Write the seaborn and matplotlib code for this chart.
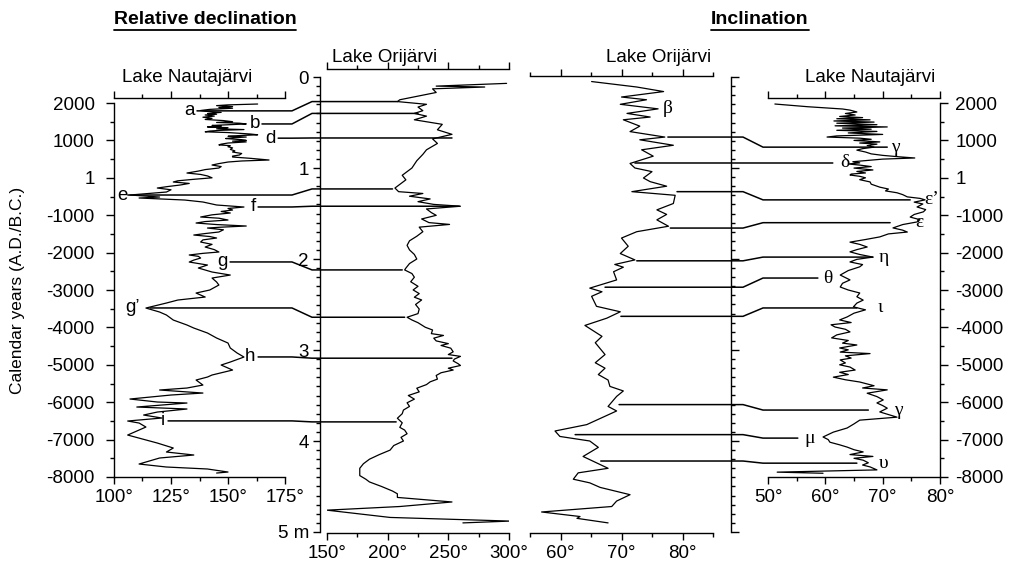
import numpy as np
import pandas as pd
import matplotlib
matplotlib.use("Agg")
import matplotlib.pyplot as plt
import seaborn as sns
from matplotlib.lines import Line2D
from matplotlib.ticker import FixedLocator

# ---------------- data ----------------
# Lake Nautajärvi relative declination (calendar year, degrees)
naut_dec_year = [1973, 1950, 1930, 1905, 1880, 1860, 1830, 1800, 1780, 1750, 1720, 1700, 1680, 1650, 1620,
                 1590, 1560, 1530, 1500, 1480, 1460, 1440, 1420, 1400, 1380, 1360, 1340, 1310, 1290, 1270,
                 1250, 1230, 1210, 1190, 1170, 1150, 1130, 1110, 1090, 1070, 1050, 1020, 1000, 980, 960,
                 930, 900, 880, 860, 830, 800, 760, 720, 690, 650, 610, 580, 556, 520, 476,
                 450, 422, 380, 342, 300, 262, 220, 180, 128, 90, 50, 0, -40, -80, -112,
                 -150, -193, -230, -273, -320, -380, -420, -460, -514, -540, -594, -647, -727, -781, -820,
                 -861, -900, -941, -990, -1048, -1080, -1129, -1170, -1209, -1250, -1289, -1320, -1343, -1390, -1449,
                 -1490, -1530, -1570, -1610, -1660, -1717, -1780, -1851, -1920, -1984, -2020, -2064, -2100, -2145, -2200,
                 -2252, -2332, -2412, -2519, -2600, -2680, -2786, -2867, -3000, -3081, -3188, -3268, -3348, -3482, -3589,
                 -3669, -3803, -3936, -4017, -4150, -4284, -4418, -4551, -4685, -4792, -4926, -5006, -5140, -5273, -5327,
                 -5407, -5541, -5621, -5674, -5755, -5808, -5915, -5995, -6022, -6129, -6182, -6263, -6343, -6423, -6503,
                 -6557, -6664, -6744, -6878, -7011, -7092, -7225, -7332, -7412, -7492, -7599, -7653, -7733, -7786, -7867,
                 -7894]
naut_dec_deg = [163, 150, 145, 152, 146, 152, 142, 138, 140, 147, 141, 145, 140, 144, 139,
                143, 140, 148, 152, 145, 155, 158, 150, 143, 147, 141, 150, 145, 157, 147,
                142, 140, 150, 155, 160, 163, 155, 150, 158, 152, 149, 156, 158, 152, 158,
                150, 147, 146, 151, 150, 152, 151, 153, 152, 156, 155, 152, 152, 160, 168,
                156, 150, 146, 143, 147, 146, 140, 137, 132, 138, 141, 143, 135, 128, 126,
                133, 129, 124, 119, 125, 123, 115, 107, 120, 111, 131, 139, 145, 157, 150,
                152, 147, 151, 143, 138, 146, 150, 140, 136, 145, 158, 147, 141, 148, 146,
                140, 135, 142, 145, 139, 138, 143, 140, 144, 146, 139, 133, 137, 138, 135,
                133, 141, 137, 143, 151, 143, 145, 146, 142, 136, 140, 128, 123, 114, 120,
                123, 126, 132, 135, 141, 145, 150, 151, 154, 157, 151, 147, 152, 143, 141,
                136, 139, 132, 120, 139, 125, 107, 119, 132, 110, 132, 119, 113, 121, 106,
                111, 114, 111, 106, 114, 119, 126, 123, 135, 120, 114, 111, 123, 141, 150,
                145]

# Lake Orijärvi relative declination (depth m, degrees)
ori_dec_depth = [0.07, 0.10, 0.11, 0.13, 0.17, 0.25, 0.27, 0.30, 0.33, 0.37, 0.40, 0.43, 0.47, 0.52, 0.58,
                 0.63, 0.68, 0.73, 0.80, 0.85, 0.92, 1.00, 1.08, 1.13, 1.18, 1.22, 1.26, 1.28, 1.31, 1.34,
                 1.37, 1.40, 1.42, 1.45, 1.49, 1.52, 1.56, 1.60, 1.62, 1.65, 1.70, 1.75, 1.80, 1.85, 1.90,
                 1.95, 2.00, 2.05, 2.10, 2.12, 2.16, 2.20, 2.25, 2.30, 2.34, 2.38, 2.42, 2.45, 2.50, 2.55,
                 2.60, 2.64, 2.67, 2.70, 2.75, 2.78, 2.82, 2.84, 2.87, 2.90, 2.93, 2.95, 2.98, 3.02, 3.05,
                 3.07, 3.10, 3.12, 3.15, 3.17, 3.20, 3.22, 3.25, 3.28, 3.32, 3.35, 3.38, 3.42, 3.46, 3.50,
                 3.54, 3.58, 3.62, 3.66, 3.70, 3.75, 3.80, 3.85, 3.88, 3.92, 3.96, 4.00, 4.05, 4.10, 4.15,
                 4.20, 4.25, 4.30, 4.38, 4.42, 4.45, 4.50, 4.55, 4.58, 4.62, 4.67, 4.72, 4.76, 4.84, 4.88,
                 4.90]
ori_dec_deg = [298, 240, 280, 237, 240, 210, 208, 232, 225, 229, 222, 232, 222, 245, 241,
               253, 237, 241, 232, 229, 224, 220, 212, 215, 210, 206, 209, 229, 218, 235,
               225, 238, 260, 232, 236, 240, 228, 234, 251, 226, 229, 224, 218, 216, 218,
               222, 224, 218, 215, 214, 220, 222, 219, 225, 221, 226, 222, 228, 223, 226,
               225, 216, 220, 225, 231, 237, 236, 246, 238, 240, 250, 244, 252, 254, 250,
               260, 255, 254, 258, 260, 250, 254, 244, 240, 241, 235, 232, 224, 226, 217,
               222, 216, 218, 213, 212, 208, 212, 210, 214, 216, 211, 213, 205, 202, 193,
               185, 180, 177, 177, 182, 185, 195, 204, 208, 208, 253, 210, 150, 202, 301,
               262]

# Lake Orijärvi inclination (depth m, degrees)
ori_inc_depth = [0.05, 0.11, 0.16, 0.22, 0.25, 0.30, 0.35, 0.40, 0.44, 0.47, 0.54, 0.60, 0.66, 0.69, 0.75,
                 0.80, 0.87, 0.95, 1.00, 1.04, 1.11, 1.15, 1.20, 1.26, 1.30, 1.39, 1.46, 1.51, 1.57, 1.64,
                 1.70, 1.77, 1.86, 1.94, 2.01, 2.06, 2.09, 2.14, 2.23, 2.32, 2.36, 2.41, 2.52, 2.58, 2.65,
                 2.73, 2.85, 2.92, 3.05, 3.14, 3.20, 3.27, 3.33, 3.40, 3.45, 3.51, 3.62, 3.67, 3.82, 3.89,
                 3.95, 4.00, 4.07, 4.17, 4.30, 4.35, 4.42, 4.46, 4.51, 4.59, 4.66, 4.72, 4.78, 4.83, 4.85,
                 4.90]
ori_inc_deg = [65.1, 72.5, 76.9, 70.0, 74.1, 69.8, 76.0, 70.9, 74.7, 70.3, 73.0, 71.4, 77.1, 73.0, 78.5,
               73.3, 75.2, 71.4, 72.2, 75.0, 73.6, 74.7, 77.4, 71.7, 78.8, 78.5, 75.8, 77.4, 75.8, 77.7,
               72.5, 70.0, 71.1, 69.8, 72.2, 68.9, 70.3, 68.7, 69.2, 64.8, 66.8, 65.1, 65.9, 69.8, 67.6,
               64.0, 66.8, 65.7, 67.3, 65.7, 67.3, 66.2, 67.8, 68.1, 70.3, 69.2, 67.8, 69.2, 64.3, 59.1,
               59.9, 64.8, 66.2, 63.7, 67.8, 62.9, 62.1, 64.8, 66.5, 71.4, 69.2, 68.4, 56.9, 63.2, 62.7,
               67.8]

# Lake Nautajärvi inclination (calendar year, degrees)
naut_inc_year = [1973, 1900, 1840, 1810, 1760, 1720, 1680, 1640, 1610, 1580, 1550, 1520, 1490, 1460, 1420,
                 1390, 1360, 1330, 1300, 1270, 1240, 1200, 1160, 1120, 1090, 1060, 1030, 1000, 960, 930,
                 900, 860, 820, 780, 740, 690, 640, 600, 560, 530, 500, 460, 430, 400, 370,
                 340, 300, 260, 210, 170, 130, 100, 75, 40, 0, -50, -110, -170, -250, -300,
                 -350, -400, -450, -510, -550, -590, -650, -700, -780, -850, -910, -980, -1050, -1120, -1180,
                 -1250, -1340, -1400, -1450, -1500, -1580, -1650, -1720, -1780, -1850, -1920, -1980, -2050, -2120, -2180,
                 -2250, -2320, -2380, -2480, -2600, -2670, -2730, -2820, -2920, -3000, -3080, -3180, -3270, -3350, -3450,
                 -3530, -3620, -3720, -3800, -3870, -3930, -3990, -4050, -4120, -4200, -4280, -4350, -4420, -4470, -4550,
                 -4600, -4660, -4700, -4760, -4820, -4870, -4950, -5000, -5060, -5140, -5200, -5260, -5330, -5400, -5460,
                 -5560, -5620, -5670, -5760, -5850, -5940, -6020, -6090, -6160, -6260, -6330, -6400, -6480, -6580, -6690,
                 -6800, -6930, -7000, -7070, -7140, -7200, -7270, -7330, -7400, -7450, -7500, -7550, -7620, -7680, -7730,
                 -7810, -7870, -7900]
naut_inc_deg = [51.2, 57.0, 63.0, 64.3, 65.5, 63.5, 65.2, 62.5, 66.5, 62.0, 67.8, 61.5, 68.5, 62.0, 69.0,
                61.7, 70.8, 63.0, 68.0, 62.0, 69.0, 64.0, 70.0, 62.0, 60.3, 66.0, 68.0, 65.0, 69.5, 66.0,
                69.0, 67.3, 68.5, 66.5, 65.5, 67.0, 68.0, 70.0, 73.0, 75.6, 70.0, 67.0, 64.8, 66.0, 64.0,
                66.0, 68.0, 65.0, 68.3, 65.5, 67.0, 64.5, 64.3, 66.0, 67.0, 66.0, 67.8, 68.0, 69.5, 71.0,
                70.5, 72.5, 73.5, 74.3, 76.5, 77.4, 75.5, 77.0, 76.0, 77.5, 77.1, 75.5, 74.8, 76.5, 76.0,
                73.5, 71.8, 73.5, 74.3, 71.0, 69.5, 67.0, 64.3, 66.0, 67.3, 65.5, 64.3, 66.0, 68.3, 65.5,
                64.3, 66.5, 66.0, 64.0, 62.6, 63.5, 64.3, 63.0, 62.6, 64.0, 66.0, 65.5, 66.6, 65.5, 64.9,
                67.0, 65.0, 63.8, 62.5, 64.5, 61.0, 61.7, 63.5, 64.3, 62.0, 61.1, 64.0, 63.0, 65.5, 62.5,
                64.0, 62.6, 67.8, 63.5, 64.5, 62.6, 63.5, 62.5, 64.3, 65.2, 62.5, 64.0, 61.4, 63.5, 66.0,
                68.5, 66.5, 70.8, 67.3, 69.0, 70.1, 69.0, 70.0, 70.8, 69.5, 71.0, 72.5, 66.0, 65.0, 63.8,
                61.4, 59.6, 60.5, 60.8, 62.5, 63.8, 65.0, 66.6, 64.3, 68.3, 65.0, 66.6, 67.5, 66.5, 67.8,
                69.0, 51.6, 59.6]

# declination tie points: label, Nautajärvi year, Orijärvi depth, line start (deg, panel 1), line end (deg, panel 2), label x
dec_tie_label = ["a", "b", "d", "e", "f", "g", "g\u2019", "h", "i"]
dec_tie_year = [1790, 1440, 1060, -460, -780, -2250, -3480, -4790, -6500]
dec_tie_depth = [0.27, 0.40, 0.67, 1.23, 1.42, 2.12, 2.64, 3.09, 3.79]
dec_tie_start = [136.4, 164.9, 172.0, 106.1, 163.2, 150.9, 115.8, 163.2, 123.7]
dec_tie_end = [208, 225, 253, 204, 259, 212, 214, 253, 207]
dec_tie_labx = [133.3, 161.8, 168.4, 103.9, 161.0, 147.4, 108.3, 159.6, 121.5]

# inclination tie points: label, Orijärvi depth, Nautajärvi year, line start (deg, panel 3), line end (deg, panel 4), label x
inc_tie_label = ["\u03b3", "\u03b4", "\u03b5\u2019", "\u03b5", "\u03b7", "\u03b8", "\u03b9", "\u03b3", "\u03bc", "\u03c5"]
inc_tie_depth = [0.66, 0.945, 1.26, 1.66, 2.02, 2.31, 2.63, 3.60, 3.93, 4.22]
inc_tie_year = [820, 396, -590, -1200, -2120, -2680, -3480, -6210, -6960, -7630]
inc_tie_start = [77.6, 72.2, 79.1, 78.0, 72.5, 67.3, 69.9, 69.6, 62.4, 66.6]
inc_tie_end = [70.8, 61.3, 74.8, 71.3, 68.3, 58.7, 65.5, 67.5, 55.2, 65.5]
inc_tie_labx = [72.2, 63.4, 78.6, 76.4, 70.2, 60.5, 69.5, 72.7, 57.3, 70.1]

beta_label, beta_depth, beta_x = "\u03b2", 0.35, 77.5

year_ticks = [-8000, -7000, -6000, -5000, -4000, -3000, -2000, -1000, 0, 1000, 2000]
year_labels = ["-8000", "-7000", "-6000", "-5000", "-4000", "-3000", "-2000", "-1000", "1", "1000", "2000"]
depth_ticks = [0, 1, 2, 3, 4, 5]
depth_labels = ["0", "1", "2", "3", "4", "5 m"]

# ---------------- figure ----------------
sns.set_style("ticks")
plt.rcParams['font.family'] = ['Liberation Sans', 'DejaVu Sans']
plt.rcParams['axes.linewidth'] = 1.0
plt.rcParams['text.color'] = 'black'
plt.rcParams['axes.edgecolor'] = 'black'

W, H = 1009, 561
FS = 13.5
fig = plt.figure(figsize=(W / 100, H / 100), dpi=100)


def px_axes(x0, y0, x1, y1):
    return fig.add_axes([x0 / W, 1 - y1 / H, (x1 - x0) / W, (y1 - y0) / H])


TL = dict(labelsize=FS, width=1.0, colors='black')


def style_x(ax, major, minor, labels):
    ax.xaxis.set_major_locator(FixedLocator(major))
    ax.xaxis.set_minor_locator(FixedLocator(minor))
    ax.set_xticklabels(labels)
    ax.tick_params(axis='x', which='both', top=True, bottom=True, labeltop=False,
                   labelbottom=True, direction='out', pad=4, **TL)
    ax.tick_params(axis='x', which='major', length=5)
    ax.tick_params(axis='x', which='minor', length=3)


def line(ax, x, y):
    sns.lineplot(x=x, y=y, sort=False, estimator=None, color='black', linewidth=0.9, ax=ax)
    ax.set_xlabel("")
    ax.set_ylabel("")


# Panel 1: Nautajärvi declination
ax1 = px_axes(114, 98, 285, 477)
line(ax1, naut_dec_deg, naut_dec_year)
ax1.set_xlim(100, 175)
ax1.set_ylim(-8000, 2134)
style_x(ax1, [100, 125, 150, 175], [112.5, 137.5, 162.5], ["100°", "125°", "150°", "175°"])
ax1.yaxis.set_major_locator(FixedLocator(year_ticks))
ax1.set_yticklabels(year_labels)
ax1.yaxis.set_minor_locator(FixedLocator(np.arange(-7500, 2000, 1000)))
ax1.tick_params(axis='y', which='both', left=True, right=False, direction='out', pad=8, **TL)
ax1.tick_params(axis='y', which='major', length=6)
ax1.tick_params(axis='y', which='minor', length=3)
ax1.spines['right'].set_visible(False)
ax1.spines['left'].set_bounds(-8000, 2000)

# Panel 2: Orijärvi declination
ax2 = px_axes(327, 69, 509, 533)
line(ax2, ori_dec_deg, ori_dec_depth)
ax2.set_xlim(150, 300)
ax2.set_ylim(5.011, -0.088)
style_x(ax2, [150, 200, 250, 300], [175, 225, 275], ["150°", "200°", "250°", "300°"])
ax2.yaxis.set_major_locator(FixedLocator(depth_ticks))
ax2.set_yticklabels(depth_labels)
ax2.yaxis.set_minor_locator(FixedLocator([v / 10 for v in range(51) if v % 10]))
ax2.tick_params(axis='y', which='both', left=True, right=False, direction='out', pad=3, **TL)
ax2.tick_params(axis='y', which='major', length=5)
ax2.tick_params(axis='y', which='minor', length=3)
ax2.spines['right'].set_visible(False)
ax2.spines['left'].set_position(('outward', 5))
ax2.spines['left'].set_bounds(0, 5)

# Panel 3: Orijärvi inclination
ax3 = px_axes(530, 76, 713, 533)
line(ax3, ori_inc_deg, ori_inc_depth)
ax3.set_xlim(55, 85)
ax3.set_ylim(5.011, -0.011)
style_x(ax3, [60, 70, 80], [55, 65, 75, 85], ["60°", "70°", "80°"])
ax3.yaxis.set_major_locator(FixedLocator(depth_ticks))
ax3.yaxis.set_minor_locator(FixedLocator([v / 10 for v in range(51) if v % 10]))
ax3.tick_params(axis='y', which='both', left=False, right=True, labelleft=False, labelright=False,
                direction='out', **TL)
ax3.tick_params(axis='y', which='major', length=6)
ax3.tick_params(axis='y', which='minor', length=3)
ax3.spines['left'].set_visible(False)
ax3.spines['right'].set_position(('outward', 13))
ax3.spines['right'].set_bounds(0, 5)

# Panel 4: Nautajärvi inclination
ax4 = px_axes(768, 98, 940, 477)
line(ax4, naut_inc_deg, naut_inc_year)
ax4.set_xlim(50, 80)
ax4.set_ylim(-8000, 2134)
style_x(ax4, [50, 60, 70, 80], [55, 65, 75], ["50°", "60°", "70°", "80°"])
ax4.yaxis.set_major_locator(FixedLocator(year_ticks))
ax4.set_yticklabels(year_labels)
ax4.yaxis.set_minor_locator(FixedLocator(np.arange(-7500, 2000, 1000)))
ax4.tick_params(axis='y', which='both', left=False, right=True, labelleft=False, labelright=True,
                direction='out', pad=5, **TL)
ax4.tick_params(axis='y', which='major', length=6)
ax4.tick_params(axis='y', which='minor', length=3)
ax4.spines['left'].set_visible(False)
ax4.spines['right'].set_bounds(-8000, 2000)

for ax in (ax1, ax2, ax3, ax4):
    ax.patch.set_alpha(0)

# ---------------- tie lines ----------------
inv = fig.transFigure.inverted()


def to_fig(ax, x, y):
    return inv.transform(ax.transData.transform((x, y)))


for lab, yr, dp, xs, xe, lx in zip(dec_tie_label, dec_tie_year, dec_tie_depth, dec_tie_start,
                                   dec_tie_end, dec_tie_labx):
    p0 = to_fig(ax1, xs, yr)
    p3 = to_fig(ax2, xe, dp)
    xs_ = [p0[0], 292 / W, 312 / W, p3[0]]
    ys_ = [p0[1], p0[1], p3[1], p3[1]]
    fig.add_artist(Line2D(xs_, ys_, transform=fig.transFigure, color='black', lw=1.1))
    ax1.text(lx, yr, lab, ha='center', va='center', fontsize=FS)

for lab, dp, yr, xs, xe, lx in zip(inc_tie_label, inc_tie_depth, inc_tie_year, inc_tie_start,
                                   inc_tie_end, inc_tie_labx):
    p0 = to_fig(ax3, xs, dp)
    p3 = to_fig(ax4, xe, yr)
    xs_ = [p0[0], 743 / W, 763 / W, p3[0]]
    ys_ = [p0[1], p0[1], p3[1], p3[1]]
    fig.add_artist(Line2D(xs_, ys_, transform=fig.transFigure, color='black', lw=1.1))
    ax4.text(lx, yr, lab, ha='center', va='center', fontsize=14,
             family=['Liberation Serif', 'DejaVu Serif'])

ax3.text(beta_x, beta_depth, beta_label, ha='center', va='center', fontsize=14,
         family=['Liberation Serif', 'DejaVu Serif'])

# ---------------- texts ----------------
fig.text(187 / W, 1 - 77 / H, "Lake Nautajärvi", ha='center', va='center', fontsize=FS)
fig.text(870 / W, 1 - 77 / H, "Lake Nautajärvi", ha='center', va='center', fontsize=FS)
fig.text(385 / W, 1 - 58 / H, "Lake Orijärvi", ha='center', va='center', fontsize=FS)
fig.text(659 / W, 1 - 58 / H, "Lake Orijärvi", ha='center', va='center', fontsize=FS)
fig.text(18 / W, 1 - 290 / H, "Calendar years (A.D./B.C.)", ha='center', va='center',
         rotation=90, fontsize=12.5)

t1 = fig.text(205 / W, 1 - 20 / H, "Relative declination", ha='center', va='center',
              fontsize=14, fontweight='bold')
t2 = fig.text(760 / W, 1 - 20 / H, "Inclination", ha='center', va='center',
              fontsize=14, fontweight='bold')
fig.canvas.draw()
r = fig.canvas.get_renderer()
for t in (t1, t2):
    bb = t.get_window_extent(renderer=r)
    y = (bb.y0 - 1) / H
    fig.add_artist(Line2D([bb.x0 / W, bb.x1 / W], [y, y], transform=fig.transFigure,
                          color='black', lw=1.3))

fig.savefig("out.png", dpi=100)
